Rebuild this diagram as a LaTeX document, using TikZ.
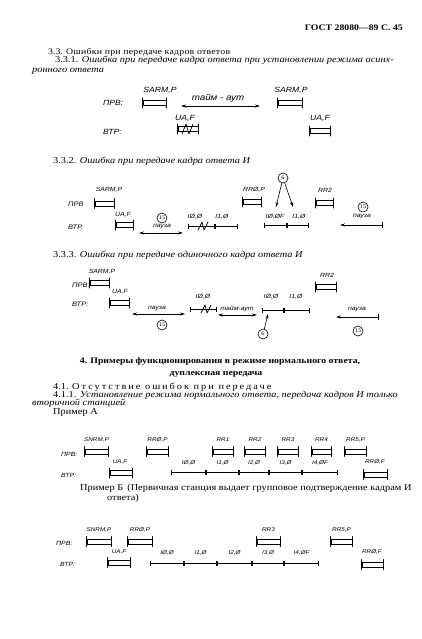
\documentclass[tikz,border=0pt]{standalone}
\usepackage{fontspec}
\setmainfont{Liberation Serif}[FakeStretch=1.15]
\setsansfont{Liberation Sans}[FakeStretch=1.15]
\usetikzlibrary{arrows.meta,calc}

\begin{document}
\begin{tikzpicture}[x=1pt, y=-1pt, line join=round, line cap=round, >={Stealth[length=5pt, width=3pt]},
	txt/.style={anchor=base west, inner sep=0pt, font=\fontsize{9}{9}\selectfont},
	lbl/.style={inner sep=0pt, font=\sffamily\itshape\fontsize{#1}{#1}\selectfont}, lbl/.default=6,
	kadr/.style={draw, line width=0.7pt, minimum width=#1, minimum height=5pt, inner sep=0pt,
		append after command={([yshift=2pt]\tikzlastnode.north west) edge[draw, line width=1.3pt] ([yshift=-2pt]\tikzlastnode.south west)
			([yshift=2pt]\tikzlastnode.north east) edge[draw, line width=1.3pt] ([yshift=-2pt]\tikzlastnode.south east)}},
	seg/.style={line width=0.6pt, {Bar[width=5pt]}-{Bar[width=5pt]}},
	krug/.style={circle, draw, line width=0.6pt, inner sep=0pt, minimum size=10pt, font=\fontsize{5.5}{5.5}\selectfont}]
\useasboundingbox (0,0) rectangle (422,639);
% Шапка страницы
\node[txt, anchor=base east, font=\bfseries\fontsize{8.5}{8.5}\selectfont] (gost) at (403,31) {ГОСТ 28080—89 С. 45};
% Раздел 3.3
\node[txt, font=\fontsize{8.5}{8.5}\selectfont] (r33) at (48,55) {3.3. {\addfontfeatures{LetterSpace=3}Ошибки при передаче кадров ответов}};
\node[txt] (r331) at (55,63) {3.3.1. \textit{Ошибка при передаче кадра ответа при установлении режима асинх-}};
\node[txt] (r331b) at (32,73) {\textit{ронного ответа}};
% 3.3.1: станции
\node[lbl=7.5, anchor=west] (prv1) at (103,103) {ПРВ:};
\node[lbl=7.5, anchor=west] (vtr1) at (103,132) {ВТР:};
\node[kadr=23pt] (sarm1) at (154.5,103) {};
\node[lbl=7.5] (tsarm1) at (160,90) {SARM,P};
\node[kadr=24pt] (sarm2) at (290,103) {};
\node[lbl=7.5] (tsarm2) at (291,90) {SARM,P};
\coordinate (t1a) at (181,106);
\coordinate (t1b) at (260,106);
\draw[<->, line width=0.7pt] (t1a) -- (t1b);
\node[lbl=8.5] (taim1) at (218,98) {тайм - аут};
\node[kadr=20pt] (ua1) at (188,129) {};
\node[lbl=7.5] (tua1) at (185,118) {UA,F};
% кадр с ошибкой
\draw[line width=0.7pt] ([shift={(-6,5)}]ua1.center) -- ([shift={(-2,-5)}]ua1.center) -- ([shift={(1,5)}]ua1.center) -- ([shift={(5,-5)}]ua1.center);
\node[kadr=20pt] (ua2) at (320,131) {};
\node[lbl=7.5] (tua2) at (320,118) {UA,F};
% 3.3.2
\node[txt] (r332) at (53,164) {3.3.2. \textit{Ошибка при передаче кадра ответа И}};
\node[lbl=6.5, anchor=west] (prv2) at (68,204) {ПРВ};
\node[lbl=6.5, anchor=west] (vtr2) at (68,227) {ВТР.};
\node[kadr=19pt] (sarm3) at (104.5,203.5) {};
\node[lbl] (tsarm3) at (109,190) {SARM,P};
\node[kadr=17pt] (ua3) at (124.5,225) {};
\node[lbl] (tua3) at (123,215) {UA,F};
\node[krug] (k15a) at (162,218) {15};
\node[lbl] (pz1) at (162,227) {пауза};
\coordinate (p1a) at (139,233);
\coordinate (p1b) at (183,233);
\draw[<->, line width=0.6pt] (p1a) -- (p1b);
\foreach \x [count=\i] in {188,215,238} \coordinate (a\i) at (\x,226);
\foreach \i/\j in {1/2,2/3} \draw[seg] (a\i) -- (a\j);
\coordinate (z1) at (203,226);
\draw[line width=0.7pt] ([shift={(-5,4)}]z1) -- ([shift={(-1,-4)}]z1) -- ([shift={(1,4)}]z1) -- ([shift={(5,-4)}]z1);
\node[lbl] (ta1) at (195,217) {IØ,Ø};
\node[lbl] (ta2) at (222,217) {I1,Ø};
\node[kadr=18pt] (rr0a) at (252,202) {};
\node[lbl] (trr0a) at (254,190) {RRØ,P};
\node[krug] (k6a) at (283,178) {6};
\coordinate (s1) at (276,207);
\coordinate (s2) at (293,207);
\draw[->, line width=0.6pt] (k6a) -- (s1);
\draw[->, line width=0.6pt] (k6a) -- (s2);
\foreach \x [count=\i] in {264,287,309} \coordinate (b\i) at (\x,225);
\foreach \i/\j in {1/2,2/3} \draw[seg] (b\i) -- (b\j);
\node[lbl] (tb1) at (275,217) {IØ,ØF};
\node[lbl] (tb2) at (299,217) {I1,Ø};
\node[kadr=17pt] (rr2a) at (324.5,203) {};
\node[lbl] (trr2a) at (325,190) {RR2};
\node[krug] (k15b) at (363,207) {15};
\node[lbl] (pz2) at (362,217) {пауза};
\coordinate (p2a) at (340,225);
\coordinate (p2b) at (383,225);
\draw[<-|, line width=0.6pt] (p2a) -- (p2b);
% 3.3.3
\node[txt] (r333) at (53,257) {3.3.3. \textit{Ошибка при передаче одиночного кадра ответа И}};
\node[lbl=6.5, anchor=west] (prv3) at (72,285) {ПРВ:};
\node[lbl=6.5, anchor=west] (vtr3) at (72,304) {ВТР:};
\node[kadr=19pt] (sarm4) at (99.5,283) {};
\node[lbl] (tsarm4) at (102,272) {SARM,P};
\node[kadr=19pt] (ua4) at (119.5,303) {};
\node[lbl] (tua4) at (120,292) {UA,F};
\coordinate (p3a) at (132,314);
\coordinate (p3b) at (185,314);
\draw[<->, line width=0.6pt] (p3a) -- (p3b);
\node[lbl] (pz3) at (157,308.5) {пауза};
\node[krug] (k15c) at (162,325) {15};
\coordinate (c1) at (190,309);
\coordinate (c2) at (217,309);
\draw[seg] (c1) -- (c2);
\coordinate (z2) at (206,309);
\draw[line width=0.7pt] ([shift={(-5,4)}]z2) -- ([shift={(-1,-4)}]z2) -- ([shift={(1,4)}]z2) -- ([shift={(5,-4)}]z2);
\node[lbl] (tc1) at (203,297) {IØ,Ø};
\coordinate (t2a) at (218,315);
\coordinate (t2b) at (257,315);
\draw[<->, line width=0.6pt] (t2a) -- (t2b);
\node[lbl] (taim2) at (237,309) {тайм-аут};
\foreach \x [count=\i] in {262,284,310} \coordinate (d\i) at (\x,310);
\foreach \i/\j in {1/2,2/3} \draw[seg] (d\i) -- (d\j);
\node[lbl] (td1) at (271,297) {IØ,Ø};
\node[lbl] (td2) at (296,297) {I1,Ø};
\node[krug] (k6b) at (263,334) {6};
\coordinate (s3) at (268,314);
\draw[->, line width=0.6pt] (k6b) -- (s3);
\node[kadr=20pt] (rr2b) at (326,287) {};
\node[lbl] (trr2b) at (327,275) {RR2};
\coordinate (p4a) at (336,317);
\coordinate (p4b) at (379,317);
\draw[<-|, line width=0.6pt] (p4a) -- (p4b);
\node[lbl] (pz4) at (357,310) {пауза};
\node[krug] (k15d) at (358,331) {15};
% Раздел 4
\node[txt, anchor=base, font=\bfseries\fontsize{8.5}{8.5}\selectfont] (r4) at (220,363) {4. Примеры функционирования в режиме нормального ответа,};
\node[txt, anchor=base, font=\bfseries\fontsize{8.5}{8.5}\selectfont] (r4b) at (216,375) {дуплексная передача};
\node[txt] (r41) at (53,389) {4.1. {\addfontfeatures{LetterSpace=22}Отсутствие ошибок при передаче}};
\node[txt] (r411) at (53,397) {4.1.1. \textit{Установление режима нормального ответа, передача кадров И только}};
\node[txt] (r411b) at (32,405) {\textit{вторичной станцией}};
\node[txt] (prA) at (53,414) {Пример А};
% Пример А
\node[lbl, anchor=west] (prv4) at (61,454) {ПРВ:};
\node[lbl, anchor=west] (vtr4) at (61,475) {ВТР:};
\foreach \x/\w/\t [count=\i] in {96.5/23/{SNRM,P}, 157.5/21/{RRØ,P}, 223/20/RR1, 255/20/RR2, 288/20/RR3, 321.5/19/RR4, 355.5/21/{RR5,P}} {
	\node[kadr=\w pt] (fa\i) at (\x,451.5) {};
	\node[lbl=5.5] (tfa\i) at (\x,440) {\t};
}
\node[kadr=22pt] (ua5) at (121,473) {};
\node[lbl=5.5] (tua5) at (120,462) {UA,F};
\foreach \x [count=\i] in {171,206,239,269,302,338} \coordinate (e\i) at (\x,472);
\foreach \i/\j/\t in {1/2/{IØ,Ø}, 2/3/{I1,Ø}, 3/4/{I2,Ø}, 4/5/{I3,Ø}, 5/6/{I4,ØF}} {
	\draw[seg] (e\i) -- (e\j);
	\node[lbl=5.5] (te\i) at ($(e\i)!0.5!(e\j)+(0,-9)$) {\t};
}
\node[kadr=23pt] (rr0b) at (375.5,474.5) {};
\node[lbl=5.5] (trr0b) at (375,462) {RRØ,F};
% Пример Б
\node[txt] (prB) at (80,490) {Пример Б\, (Первичная станция выдает групповое подтверждение кадрам И};
\node[txt] (prB2) at (107,500) {ответа)};
\node[lbl, anchor=west] (prv5) at (56,543) {ПРВ:};
\node[lbl, anchor=west] (vtr5) at (60,564) {ВТР:};
\foreach \x/\w/\t [count=\i] in {99/24/{SNRM,P}, 140/24/{RRØ,P}, 268.5/23/RR3, 341.5/21/{RR5,P}} {
	\node[kadr=\w pt] (fb\i) at (\x,541.5) {};
	\node[lbl=5.5] (tfb\i) at (\x,530) {\t};
}
\node[kadr=22pt] (ua6) at (119,562.5) {};
\node[lbl=5.5] (tua6) at (119,552) {UA,F};
\foreach \x [count=\i] in {150,184,217,252,284,319} \coordinate (f\i) at (\x,563);
\foreach \i/\j/\t in {1/2/{IØ,Ø}, 2/3/{I1,Ø}, 3/4/{I2,Ø}, 4/5/{I3,Ø}, 5/6/{I4,ØF}} {
	\draw[seg] (f\i) -- (f\j);
	\node[lbl=5.5] (tf\i) at ($(f\i)!0.5!(f\j)+(0,-10)$) {\t};
}
\node[kadr=21pt] (rr0c) at (372.5,564.5) {};
\node[lbl=5.5] (trr0c) at (372,552) {RRØ,F};
\end{tikzpicture}
\end{document}
